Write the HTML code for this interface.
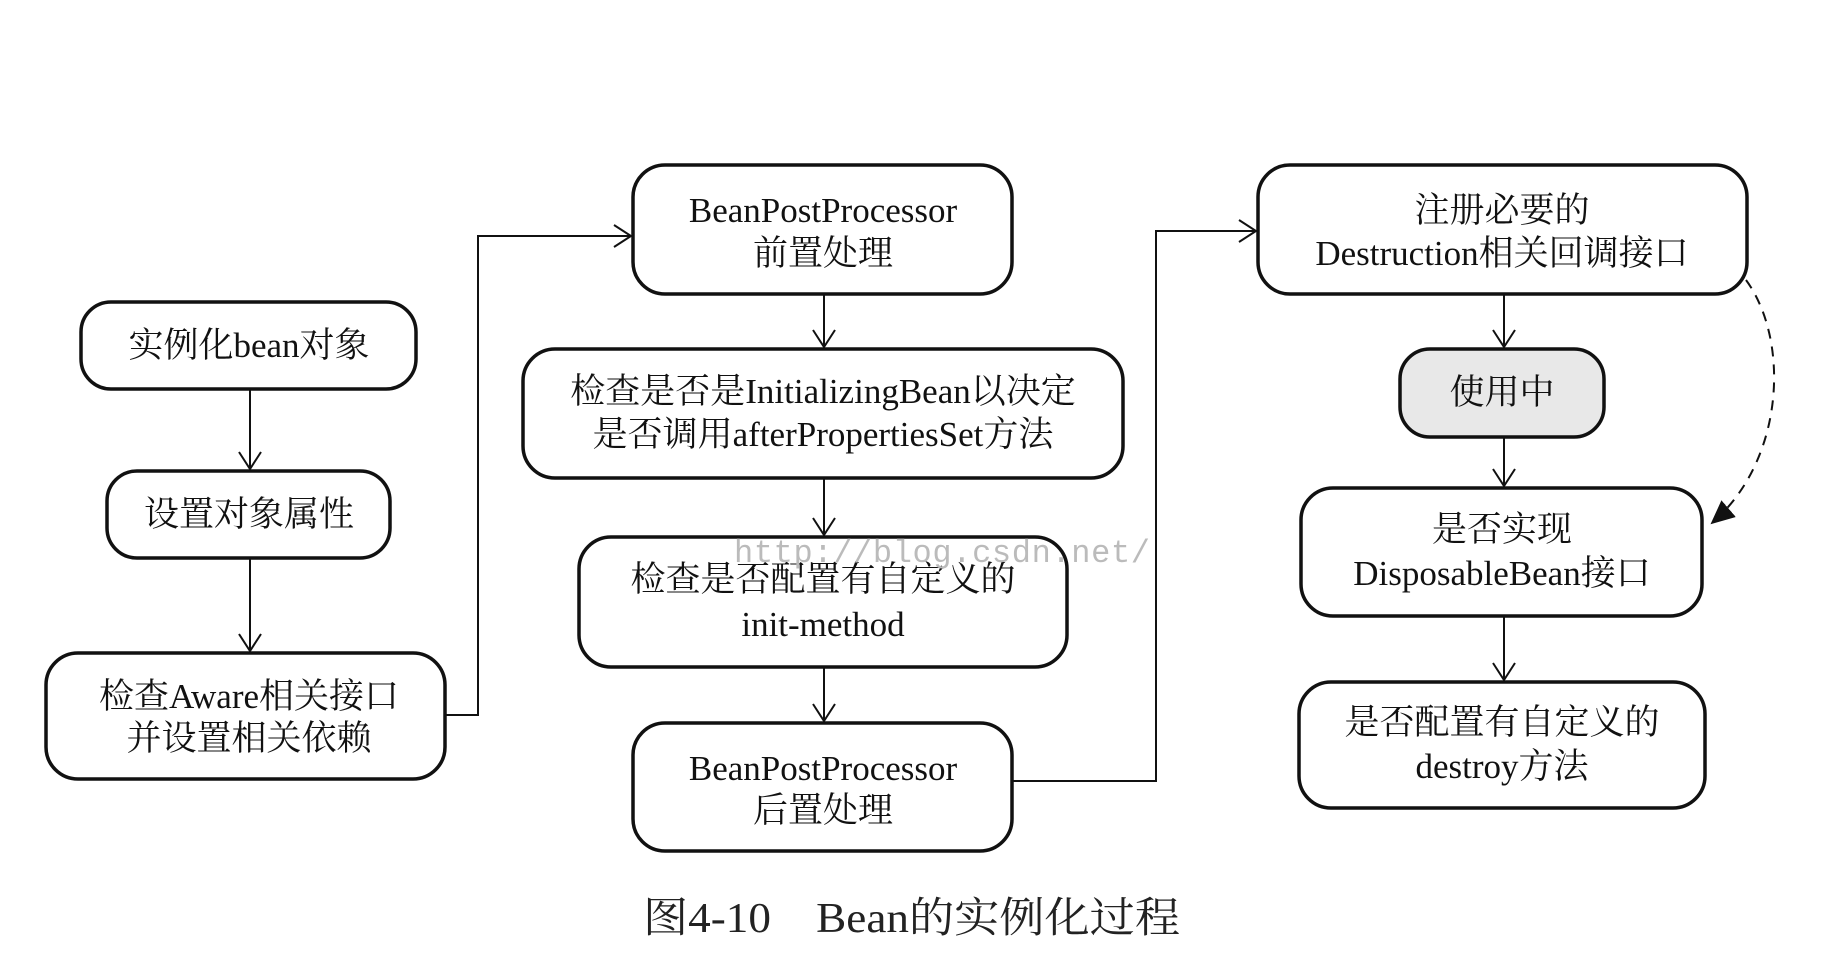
<!DOCTYPE html>
<html><head><meta charset="utf-8"><style>
html,body{margin:0;padding:0;background:#fff;}
svg text{font-family:"Liberation Serif","Noto Serif CJK SC",serif;fill:#111;}
</style></head><body>
<svg width="1822" height="962" viewBox="0 0 1822 962" xmlns="http://www.w3.org/2000/svg">
<defs>
<marker id="oa" markerWidth="20" markerHeight="24" refX="18" refY="12" orient="auto" markerUnits="userSpaceOnUse">
<path d="M1,1 L18,12 L1,23" fill="none" stroke="#111" stroke-width="2"/></marker>
<marker id="fa" markerWidth="26" markerHeight="26" refX="22" refY="13" orient="auto" markerUnits="userSpaceOnUse">
<path d="M0,2 L24,13 L0,24 Z" fill="#111"/></marker>
</defs>
<g fill="#fff" stroke="#111" stroke-width="3.5">
<rect x="81" y="302" width="335" height="87" rx="30"/>
<rect x="107" y="471" width="283" height="87" rx="30"/>
<rect x="46" y="653" width="399" height="126" rx="32"/>
<rect x="633" y="165" width="379" height="129" rx="32"/>
<rect x="523" y="349" width="600" height="129" rx="32"/>
<rect x="579" y="537" width="488" height="130" rx="32"/>
<rect x="633" y="723" width="379" height="128" rx="32"/>
<rect x="1258" y="165" width="489" height="129" rx="32"/>
<rect x="1400" y="349" width="204" height="88" rx="30" fill="#e8e8e8"/>
<rect x="1301" y="488" width="401" height="128" rx="32"/>
<rect x="1299" y="682" width="406" height="126" rx="32"/>
</g>
<g fill="none" stroke="#111" stroke-width="2">
<line x1="250" y1="389" x2="250" y2="469" marker-end="url(#oa)"/>
<line x1="250" y1="558" x2="250" y2="651" marker-end="url(#oa)"/>
<polyline points="445,715 478,715 478,236 631,236" marker-end="url(#oa)"/>
<line x1="824" y1="294" x2="824" y2="347" marker-end="url(#oa)"/>
<line x1="824" y1="478" x2="824" y2="535" marker-end="url(#oa)"/>
<line x1="824" y1="667" x2="824" y2="721" marker-end="url(#oa)"/>
<polyline points="1012,781 1156,781 1156,231 1256,231" marker-end="url(#oa)"/>
<line x1="1504" y1="294" x2="1504" y2="347" marker-end="url(#oa)"/>
<line x1="1504" y1="437" x2="1504" y2="486" marker-end="url(#oa)"/>
<line x1="1504" y1="616" x2="1504" y2="680" marker-end="url(#oa)"/>
<path d="M1746,280 C1790,340 1785,460 1712,523" stroke-dasharray="10,8" marker-end="url(#fa)"/>
</g>
<g font-size="35" text-anchor="middle">
<text x="249" y="357">实例化bean对象</text>
<text x="249" y="526">设置对象属性</text>
<text x="249" y="708">检查Aware相关接口</text>
<text x="249" y="750">并设置相关依赖</text>
<text x="823" y="222">BeanPostProcessor</text>
<text x="823" y="265">前置处理</text>
<text x="823" y="403">检查是否是InitializingBean以决定</text>
<text x="823" y="446">是否调用afterPropertiesSet方法</text>
<text x="823" y="591">检查是否配置有自定义的</text>
<text x="823" y="636">init-method</text>
<text x="823" y="780">BeanPostProcessor</text>
<text x="823" y="822">后置处理</text>
<text x="1502" y="222">注册必要的</text>
<text x="1502" y="265">Destruction相关回调接口</text>
<text x="1502" y="404">使用中</text>
<text x="1502" y="541">是否实现</text>
<text x="1502" y="585">DisposableBean接口</text>
<text x="1502" y="734">是否配置有自定义的</text>
<text x="1502" y="778">destroy方法</text>
</g>
<text x="734" y="562" font-size="32" style="fill:#bbb;font-family:'Liberation Mono',monospace" textLength="416">http://blog.csdn.net/</text>
<text x="643" y="932" font-size="42" style="fill:#222" textLength="537" lengthAdjust="spacingAndGlyphs">图4-10　Bean的实例化过程</text>
</svg>
</body></html>
